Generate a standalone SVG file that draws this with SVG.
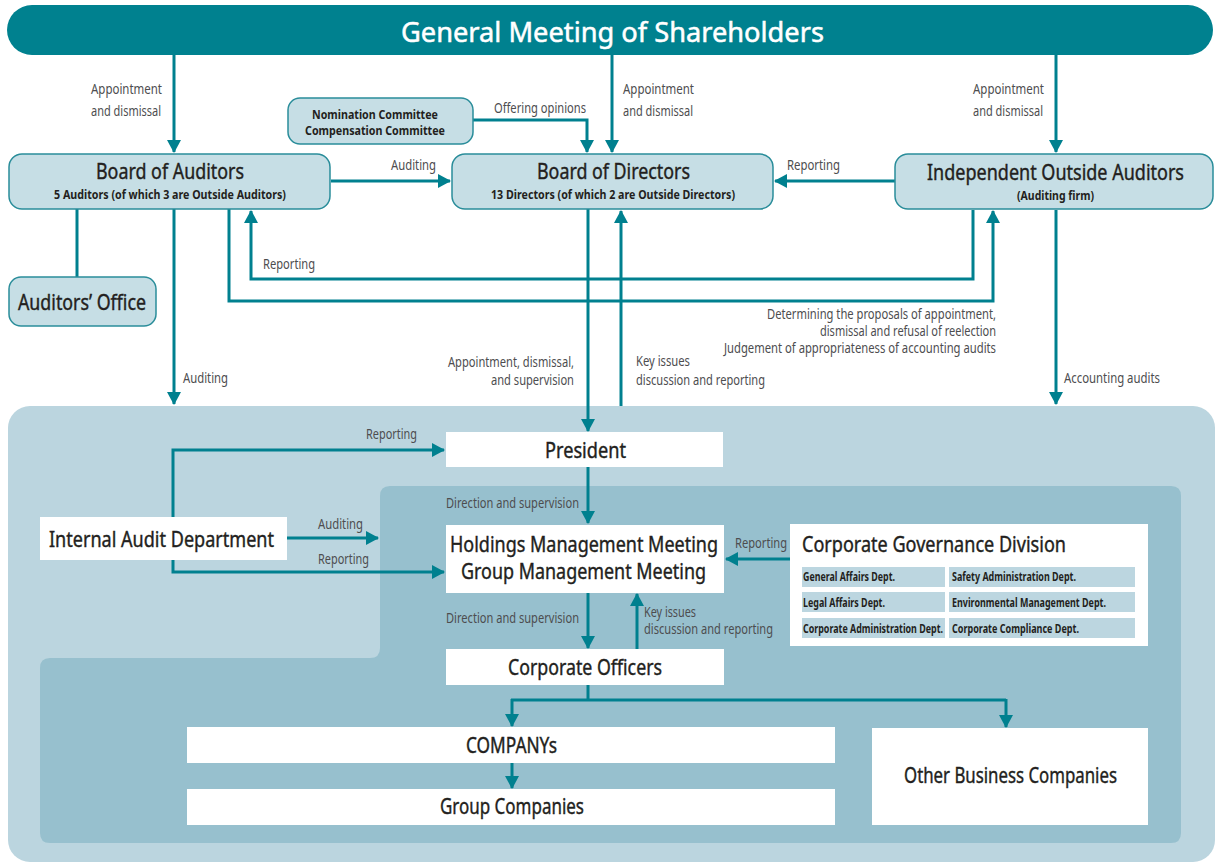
<svg xmlns="http://www.w3.org/2000/svg" width="1215" height="863" viewBox="0 0 1215 863">
  <style>
    .t { font-family: "Noto Sans", "Open Sans", "Liberation Sans", sans-serif; fill: #231f20; }
    .ttl { font-size: 21px; stroke: #231f20; stroke-width: 0.4; }
    .sub { font-size: 12.5px; font-weight: bold; }
    .lbl { font-family: "Noto Sans", "Open Sans", "Liberation Sans", sans-serif; font-size: 14px; fill: #4d4d4f; }
    .cell { font-family: "Noto Sans", "Open Sans", "Liberation Sans", sans-serif; font-size: 11.5px; font-weight: bold; fill: #231f20; }
    .box { fill: #c6dee5; stroke: #2a8d9a; stroke-width: 1.5; }
    .wbox { fill: #ffffff; }
    .cbg { fill: #bcd6e0; }
    .con { fill: none; stroke: #00808f; stroke-width: 3; }
    .arr { marker-end: url(#ah); }
  </style>
  <defs>
    <marker id="ah" viewBox="0 0 13 14" markerWidth="13" markerHeight="14" refX="12" refY="7" orient="auto" markerUnits="userSpaceOnUse">
      <path d="M0,0 L13,7 L0,14 Z" fill="#00808f"/>
    </marker>
  </defs>

  <!-- executive area backgrounds -->
  <rect x="8" y="406" width="1207" height="456" rx="22" fill="#bbd5df"/>
  <path d="M390,486 H1171 Q1181,486 1181,496 V833 Q1181,843 1171,843 H50 Q40,843 40,833 V668 Q40,658 50,658 H370 Q380,658 380,648 V496 Q380,486 390,486 Z" fill="#97c0ce"/>

  <!-- connectors -->
  <g id="connectors">
    <path class="con arr" d="M174,55 V152"/>
    <path class="con arr" d="M612,55 V152"/>
    <path class="con arr" d="M1056,55 V152"/>
    <path class="con arr" d="M473,120 H587 V152"/>
    <path class="con arr" d="M331,181 H450"/>
    <path class="con arr" d="M895,181 H775"/>
    <path class="con" d="M77,209 V277"/>
    <path class="con arr" d="M174,209 V404"/>
    <path class="con arr" d="M973,210 V279 H251 V211"/>
    <path class="con arr" d="M229,209 V301 H993 V211"/>
    <path class="con arr" d="M588,209 V431"/>
    <path class="con arr" d="M621,406 V211"/>
    <path class="con arr" d="M1056,210 V404"/>
    <path class="con arr" d="M173,538 V450 H444"/>
    <path class="con arr" d="M173,538 V572 H444"/>
    <path class="con arr" d="M287,538 H378"/>
    <path class="con arr" d="M588,467 V523"/>
    <path class="con arr" d="M588,593 V648"/>
    <path class="con arr" d="M637,649 V594"/>
    <path class="con arr" d="M790,559 H726"/>
    <path class="con" d="M588,684 V700"/>
    <path class="con" d="M511,700 H1006"/>
    <path class="con arr" d="M512,699 V726"/>
    <path class="con arr" d="M1006,699 V727"/>
    <path class="con arr" d="M512,763 V788"/>
  </g>

  <!-- connector labels -->
  <g id="labels">
    <text class="lbl" x="91" y="94" textLength="71" lengthAdjust="spacingAndGlyphs">Appointment</text>
    <text class="lbl" x="91" y="116" textLength="70" lengthAdjust="spacingAndGlyphs">and dismissal</text>
    <text class="lbl" x="623" y="94" textLength="71" lengthAdjust="spacingAndGlyphs">Appointment</text>
    <text class="lbl" x="623" y="116" textLength="70" lengthAdjust="spacingAndGlyphs">and dismissal</text>
    <text class="lbl" x="973" y="94" textLength="71" lengthAdjust="spacingAndGlyphs">Appointment</text>
    <text class="lbl" x="973" y="116" textLength="70" lengthAdjust="spacingAndGlyphs">and dismissal</text>
    <text class="lbl" x="494" y="113" textLength="92" lengthAdjust="spacingAndGlyphs">Offering opinions</text>
    <text class="lbl" x="391" y="170" textLength="45" lengthAdjust="spacingAndGlyphs">Auditing</text>
    <text class="lbl" x="787" y="170" textLength="53" lengthAdjust="spacingAndGlyphs">Reporting</text>
    <text class="lbl" x="263" y="269" textLength="52" lengthAdjust="spacingAndGlyphs">Reporting</text>
    <text class="lbl" x="767" y="319" textLength="229" lengthAdjust="spacingAndGlyphs">Determining the proposals of appointment,</text>
    <text class="lbl" x="820" y="336" textLength="176" lengthAdjust="spacingAndGlyphs">dismissal and refusal of reelection</text>
    <text class="lbl" x="724" y="353" textLength="272" lengthAdjust="spacingAndGlyphs">Judgement of appropriateness of accounting audits</text>
    <text class="lbl" x="183" y="383" textLength="45" lengthAdjust="spacingAndGlyphs">Auditing</text>
    <text class="lbl" x="448" y="367" textLength="126" lengthAdjust="spacingAndGlyphs">Appointment, dismissal,</text>
    <text class="lbl" x="491" y="385" textLength="83" lengthAdjust="spacingAndGlyphs">and supervision</text>
    <text class="lbl" x="636" y="366" textLength="54" lengthAdjust="spacingAndGlyphs">Key issues</text>
    <text class="lbl" x="636" y="385" textLength="129" lengthAdjust="spacingAndGlyphs">discussion and reporting</text>
    <text class="lbl" x="1064" y="383" textLength="96" lengthAdjust="spacingAndGlyphs">Accounting audits</text>
    <text class="lbl" x="366" y="439" textLength="51" lengthAdjust="spacingAndGlyphs">Reporting</text>
    <text class="lbl" x="318" y="529" textLength="45" lengthAdjust="spacingAndGlyphs">Auditing</text>
    <text class="lbl" x="318" y="564" textLength="51" lengthAdjust="spacingAndGlyphs">Reporting</text>
    <text class="lbl" x="446" y="508" textLength="133" lengthAdjust="spacingAndGlyphs">Direction and supervision</text>
    <text class="lbl" x="446" y="623" textLength="133" lengthAdjust="spacingAndGlyphs">Direction and supervision</text>
    <text class="lbl" x="644" y="617" textLength="52" lengthAdjust="spacingAndGlyphs">Key issues</text>
    <text class="lbl" x="644" y="634" textLength="129" lengthAdjust="spacingAndGlyphs">discussion and reporting</text>
    <text class="lbl" x="735" y="548" font-size="13" textLength="52" lengthAdjust="spacingAndGlyphs">Reporting</text>
  </g>

  <g id="general-meeting">
    <rect x="7" y="5" width="1206" height="50" rx="25" fill="#00818f"/>
    <text x="401" y="42" font-family="Noto Sans, Open Sans, Liberation Sans, sans-serif" font-size="27" fill="#ffffff" stroke="#ffffff" stroke-width="0.5" textLength="423" lengthAdjust="spacingAndGlyphs">General Meeting of Shareholders</text>
  </g>

  <g id="nomination-committee">
    <rect class="box" x="288" y="98" width="185" height="46" rx="12"/>
    <text class="t sub" x="312" y="119" font-size="13" textLength="126" lengthAdjust="spacingAndGlyphs">Nomination Committee</text>
    <text class="t sub" x="305" y="135" font-size="13" textLength="140" lengthAdjust="spacingAndGlyphs">Compensation Committee</text>
  </g>

  <g id="board-of-auditors">
    <rect class="box" x="9" y="154" width="321" height="55" rx="13"/>
    <text class="t ttl" x="96" y="179" textLength="148" lengthAdjust="spacingAndGlyphs">Board of Auditors</text>
    <text class="t sub" x="54" y="199" textLength="232" lengthAdjust="spacingAndGlyphs">5 Auditors (of which 3 are Outside Auditors)</text>
  </g>

  <g id="board-of-directors">
    <rect class="box" x="452" y="154" width="321" height="55" rx="13"/>
    <text class="t ttl" x="537" y="179" textLength="153" lengthAdjust="spacingAndGlyphs">Board of Directors</text>
    <text class="t sub" x="491" y="199" textLength="244" lengthAdjust="spacingAndGlyphs">13 Directors (of which 2 are Outside Directors)</text>
  </g>

  <g id="independent-outside-auditors">
    <rect class="box" x="895" y="154" width="318" height="55" rx="13"/>
    <text class="t ttl" x="927" y="180" textLength="257" lengthAdjust="spacingAndGlyphs">Independent Outside Auditors</text>
    <text class="t sub" x="1017" y="200" textLength="77" lengthAdjust="spacingAndGlyphs">(Auditing firm)</text>
  </g>

  <g id="auditors-office">
    <rect class="box" x="9" y="277" width="147" height="49" rx="12"/>
    <text class="t ttl" x="18" y="310" font-size="22" textLength="128" lengthAdjust="spacingAndGlyphs">Auditors’ Office</text>
  </g>

  <g id="president">
    <rect class="wbox" x="446" y="432" width="277" height="35"/>
    <text class="t ttl" x="545" y="458" textLength="81" lengthAdjust="spacingAndGlyphs">President</text>
  </g>

  <g id="internal-audit">
    <rect class="wbox" x="40" y="517" width="247" height="43"/>
    <text class="t ttl" x="49" y="547" textLength="225" lengthAdjust="spacingAndGlyphs">Internal Audit Department</text>
  </g>

  <g id="management-meeting">
    <rect class="wbox" x="446" y="525" width="278" height="68"/>
    <text class="t ttl" x="450" y="552" textLength="268" lengthAdjust="spacingAndGlyphs">Holdings Management Meeting</text>
    <text class="t ttl" x="461" y="579" textLength="245" lengthAdjust="spacingAndGlyphs">Group Management Meeting</text>
  </g>

  <g id="corporate-governance">
    <rect class="wbox" x="790" y="524" width="358" height="122"/>
    <text class="t ttl" x="802" y="552" textLength="264" lengthAdjust="spacingAndGlyphs">Corporate Governance Division</text>
    <rect class="cbg" x="802" y="567" width="143" height="20"/>
    <rect class="cbg" x="949" y="567" width="186" height="20"/>
    <rect class="cbg" x="802" y="592" width="143" height="20"/>
    <rect class="cbg" x="949" y="592" width="186" height="20"/>
    <rect class="cbg" x="802" y="618" width="143" height="20"/>
    <rect class="cbg" x="949" y="618" width="186" height="20"/>
    <text class="cell" x="803" y="581" textLength="92" lengthAdjust="spacingAndGlyphs">General Affairs Dept.</text>
    <text class="cell" x="952" y="581" textLength="124" lengthAdjust="spacingAndGlyphs">Safety Administration Dept.</text>
    <text class="cell" x="803" y="607" textLength="82" lengthAdjust="spacingAndGlyphs">Legal Affairs Dept.</text>
    <text class="cell" x="952" y="607" textLength="154" lengthAdjust="spacingAndGlyphs">Environmental Management Dept.</text>
    <text class="cell" x="803" y="633" textLength="140" lengthAdjust="spacingAndGlyphs">Corporate Administration Dept.</text>
    <text class="cell" x="952" y="633" textLength="127" lengthAdjust="spacingAndGlyphs">Corporate Compliance Dept.</text>
  </g>

  <g id="corporate-officers">
    <rect class="wbox" x="446" y="649" width="278" height="36"/>
    <text class="t ttl" x="508" y="675" textLength="154" lengthAdjust="spacingAndGlyphs">Corporate Officers</text>
  </g>

  <g id="companys">
    <rect class="wbox" x="187" y="727" width="648" height="36"/>
    <text class="t ttl" x="466" y="753" font-size="19" textLength="91" lengthAdjust="spacingAndGlyphs">COMPANYs</text>
  </g>

  <g id="group-companies">
    <rect class="wbox" x="187" y="789" width="648" height="36"/>
    <text class="t ttl" x="440" y="814" font-size="19" textLength="144" lengthAdjust="spacingAndGlyphs">Group Companies</text>
  </g>

  <g id="other-business">
    <rect class="wbox" x="872" y="728" width="276" height="97"/>
    <text class="t ttl" x="904" y="783" font-size="19" textLength="213" lengthAdjust="spacingAndGlyphs">Other Business Companies</text>
  </g>
</svg>
